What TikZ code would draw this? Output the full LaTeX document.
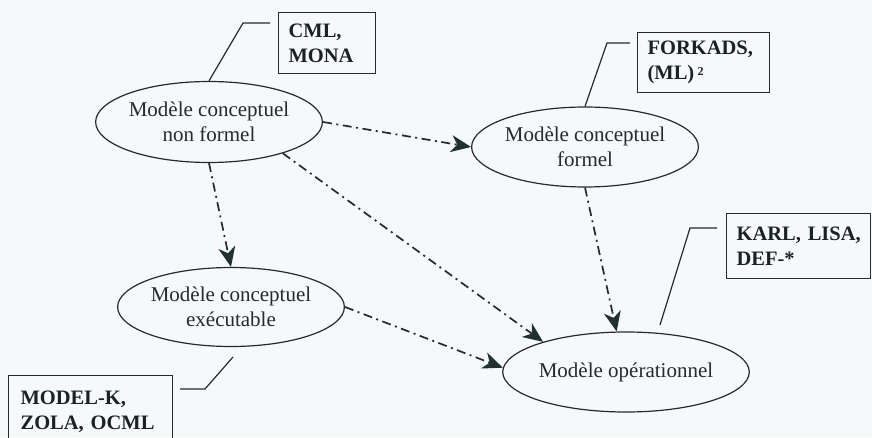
\documentclass[tikz,border=0pt]{standalone}
\usepackage{fontspec}
\setmainfont{Liberation Serif}
\usetikzlibrary{shapes.geometric,arrows.meta,calc}
\definecolor{bgc}{RGB}{246,249,250}
\definecolor{ink}{RGB}{38,42,42}
\definecolor{boxink}{RGB}{26,34,34}
\definecolor{headc}{RGB}{34,48,48}
\begin{document}
\begin{tikzpicture}[x=1pt,y=1pt,
  model/.style={ellipse,draw=ink,line width=1.2pt,inner sep=0pt,align=center,
    text=ink,font=\fontsize{21}{25}\selectfont},
  toolbox/.style={rectangle,draw=ink,line width=1.2pt,align=left,anchor=north west,
    text=boxink,font=\bfseries\fontsize{20.5}{25}\selectfont,inner xsep=10pt},
  flow/.style={draw=ink,line width=1.7pt,dash pattern=on 9pt off 4.5pt on 2pt off 4.5pt,
    -{Stealth[length=20pt,width=17pt,inset=6pt,fill=headc,color=headc]}},
  leader/.style={draw=ink,line width=1.2pt}]
\fill[bgc] (0,0) rectangle (872,437);
\useasboundingbox (0,0) rectangle (872,437);

% ellipses (image y -> 437 - y)
\node[model,minimum width=206pt,minimum height=81pt] (e1) at (209,315) {Modèle conceptuel\\non formel};
\node[model,minimum width=204pt,minimum height=80pt] (e2) at (585,290) {Modèle conceptuel\\formel};
\node[model,minimum width=204pt,minimum height=79pt] (e3) at (231,130) {Modèle conceptuel\\exécutable};
\node[model,minimum width=221pt,minimum height=80pt] (e4) at (626,65) {Modèle opérationnel};

% boxes
\node[toolbox,minimum height=61pt,text width=77pt] (b1) at (278,425) {\mbox{CML,}\\\mbox{MONA}};
\node[toolbox,minimum height=60pt,text width=112pt] (b2) at (637,405) {\mbox{FORKADS,}\\\mbox{(ML)\,\raisebox{0.45ex}{\fontsize{12}{12}\selectfont 2}}};
\node[toolbox,minimum height=65pt,text width=124pt] (b3) at (726,224) {\mbox{KARL, LISA,}\\\mbox{DEF-*}};
\node[toolbox,minimum height=72pt,text width=140pt,inner xsep=12pt] (b4) at (8,62) {\mbox{MODEL-K,}\\\mbox{ZOLA, OCML}};

% leader line points
\coordinate (l1s) at (270,414);
\coordinate (l1b) at (243,414);
\coordinate (l2s) at (630,394);
\coordinate (l2b) at (607,394);
\coordinate (l3s) at (717,209);
\coordinate (l3b) at (690,209);
\coordinate (l3e) at (660,112);
\coordinate (l4s) at (180,48);
\coordinate (l4b) at (205,48);
\coordinate (l4e) at (233,80);

\draw[leader] (l1s) -- (l1b) -- (e1.north);
\draw[leader] (l2s) -- (l2b) -- (e2.north);
\draw[leader] (l3s) -- (l3b) -- (l3e);
\draw[leader] (l4s) -- (l4b) -- (l4e);

% flows
\draw[flow] (e1.east) -- (e2.west);
\draw[flow] (e1.south) -- (e3.north);
\draw[flow] (e1.-23) -- (e4.160);
\draw[flow] (e2.south) -- (e4.103);
\draw[flow] (e3.east) -- (e4.178);
\end{tikzpicture}
\end{document}
